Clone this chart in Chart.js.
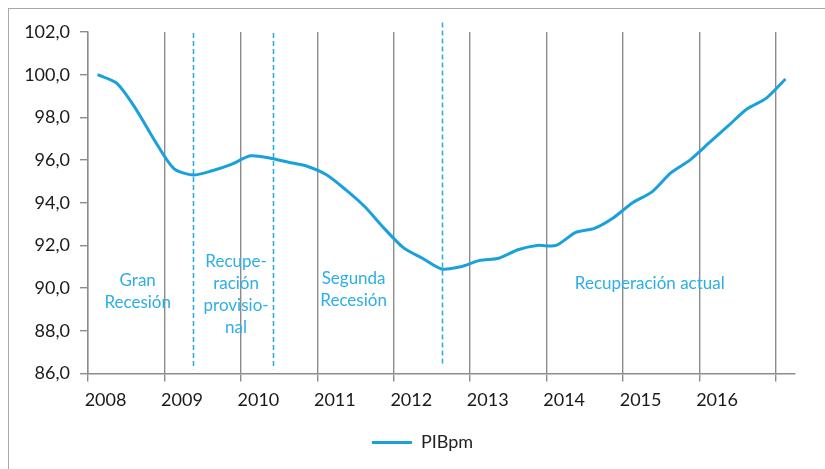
<!DOCTYPE html>
<html>
<head>
<meta charset="utf-8">
<script src="https://cdn.jsdelivr.net/npm/chart.js@4/dist/chart.umd.min.js"></script>
<style>
  html, body { margin: 0; padding: 0; background: #fff; overflow: hidden; }
  #wrap { position: relative; width: 825px; height: 469px; }
  #frame { position: absolute; left: 8px; top: 8px; width: 900px; height: 600px; border: 1.5px solid #a8a8a8; box-sizing: border-box; }
  canvas { position: absolute; left: 0; top: 0; }
</style>
</head>
<body>
<div id="wrap">
  <div id="frame"></div>
  <canvas id="c" width="825" height="469"></canvas>
</div>
<script>
// Quarterly categories 2008-T1 ... 2017-T1
const categories = [
  '2008-T1','2008-T2','2008-T3','2008-T4',
  '2009-T1','2009-T2','2009-T3','2009-T4',
  '2010-T1','2010-T2','2010-T3','2010-T4',
  '2011-T1','2011-T2','2011-T3','2011-T4',
  '2012-T1','2012-T2','2012-T3','2012-T4',
  '2013-T1','2013-T2','2013-T3','2013-T4',
  '2014-T1','2014-T2','2014-T3','2014-T4',
  '2015-T1','2015-T2','2015-T3','2015-T4',
  '2016-T1','2016-T2','2016-T3','2016-T4',
  '2017-T1'
];
// Year tick labels (one per 4 quarters)
const yearLabels = ['2008','2009','2010','2011','2012','2013','2014','2015','2016'];
// PIBpm index (2008-T1 = 100)
const pibpm = [
  100.0, 99.6, 98.4, 96.9,
  95.6, 95.3, 95.5, 95.8,
  96.2, 96.1, 95.9, 95.7,
  95.3, 94.6, 93.8, 92.8,
  91.9, 91.4, 90.9, 91.0,
  91.3, 91.4, 91.8, 92.0,
  92.0, 92.6, 92.8, 93.3,
  94.0, 94.5, 95.4, 96.0,
  96.8, 97.6, 98.4, 98.9,
  99.8
];
const seriesName = 'PIBpm';
// Phase boundaries (in quarter index) and phase names
const phaseBreaks = [5, 9.2, 18];
const phaseTexts = [
  ['Gran', 'Recesión'],
  ['Recupe-', 'ración', 'provisio-', 'nal'],
  ['Segunda', 'Recesión'],
  ['Recuperación actual']
];

const BLUE = '#1aa1dc';
const LIGHT = '#2eaee6';
const GRID = '#8c8c8c';
const FONT = 'Lato, "Open Sans", sans-serif';

const phasePlugin = {
  id: 'phases',
  beforeDatasetsDraw(chart) {
    const { ctx, scales: { x, y } } = chart;
    ctx.save();
    // dashed phase lines
    const ends = [[86.2, 101.95], [86.2, 101.95], [86.45, 102.45]];
    ctx.strokeStyle = LIGHT;
    ctx.lineWidth = 1.6;
    ctx.setLineDash([5, 3]);
    phaseBreaks.forEach((b, i) => {
      const px = Math.round(x.getPixelForValue(b)) + 0.5;
      ctx.beginPath();
      ctx.moveTo(px, y.getPixelForValue(ends[i][1]));
      ctx.lineTo(px, y.getPixelForValue(ends[i][0]));
      ctx.stroke();
    });
    ctx.setLineDash([]);
    // phase names
    const pos = [[2.1, 89.84], [7.25, 89.72], [13.4, 89.93], [28.9, 90.21]];
    ctx.fillStyle = LIGHT;
    ctx.font = '17px ' + FONT;
    ctx.textAlign = 'center';
    ctx.textBaseline = 'middle';
    const lh = 22;
    phaseTexts.forEach((lines, i) => {
      const cx = x.getPixelForValue(pos[i][0]);
      const cy = y.getPixelForValue(pos[i][1]);
      const y0 = cy - (lines.length - 1) * lh / 2;
      lines.forEach((t, j) => ctx.fillText(t, cx, y0 + j * lh));
    });
    ctx.restore();
  }
};

new Chart(document.getElementById('c'), {
  type: 'line',
  data: {
    labels: categories,
    datasets: [{
      label: seriesName,
      data: pibpm,
      borderColor: BLUE,
      backgroundColor: BLUE,
      borderWidth: 3,
      pointRadius: 0,
      pointStyle: 'line',
      tension: 0.25,
      fill: false,
      yAxisID: 'y'
    }]
  },
  options: {
    responsive: false,
    animation: false,
    layout: { padding: { left: 20, right: 0, top: 32, bottom: 7.5 } },
    plugins: {
      tooltip: { enabled: false },
      legend: {
        position: 'bottom',
        labels: {
          usePointStyle: true,
          pointStyleWidth: 40,
          color: '#222',
          font: { family: FONT, size: 18 },
          padding: 10
        }
      }
    },
    scales: {
      x: {
        type: 'category',
        offset: true,
        grid: {
          offset: true,
          drawOnChartArea: true,
          tickLength: 8,
          lineWidth: 1.4,
          color: (c) => (c.index % 4 === 0 && c.index < categories.length) ? GRID : 'rgba(0,0,0,0)'
        },
        border: { color: GRID, width: 1.4 },
        ticks: {
          autoSkip: false,
          maxRotation: 0,
          minRotation: 0,
          labelOffset: 8,
          padding: 8,
          color: '#1a1a1a',
          font: { family: FONT, size: 18 },
          callback: (v, i) => (i % 4 === 0 && yearLabels[i / 4]) ? yearLabels[i / 4] : ''
        },
        afterFit: (s) => { s.height = 50; }
      },
      y: {
        position: 'left',
        min: 86,
        max: 102,
        grid: { drawOnChartArea: false, tickLength: 8, color: GRID, lineWidth: 1.4 },
        border: { color: GRID, width: 1.4 },
        ticks: {
          stepSize: 2,
          padding: 10,
          color: '#1a1a1a',
          font: { family: FONT, size: 18 },
          callback: (v) => v.toFixed(1).replace('.', ',')
        },
        afterFit: (s) => { s.width = 68; }
      },
      yRight: {
        position: 'right',
        display: true,
        grid: { display: false, drawTicks: false },
        border: { display: false },
        ticks: { display: false },
        afterFit: (s) => { s.width = 30; }
      }
    }
  },
  plugins: [phasePlugin]
});
</script>
</body>
</html>
